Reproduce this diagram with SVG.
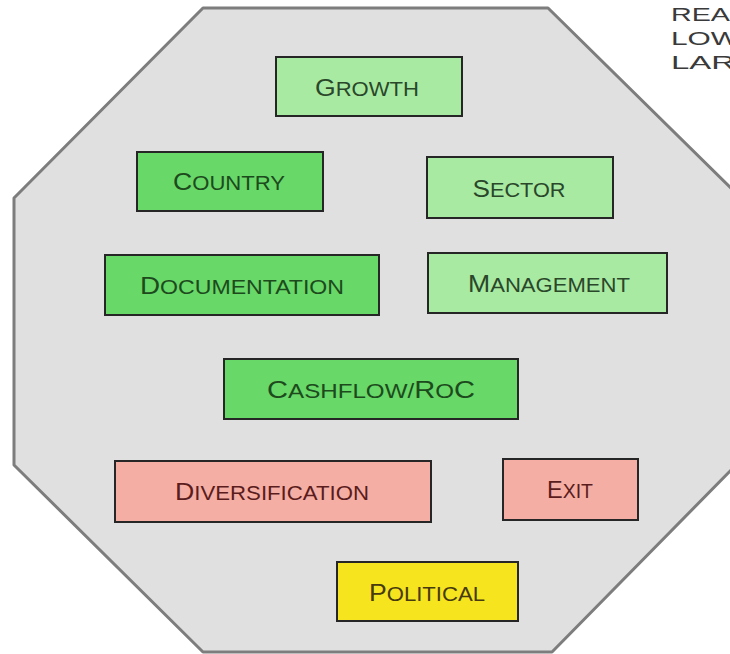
<svg xmlns="http://www.w3.org/2000/svg" width="730" height="654" viewBox="0 0 730 654">
<style>
.oct{fill:#e0e0e0;stroke:#7d7d7d;stroke-width:3;stroke-linejoin:round}
.box{stroke:#262626;stroke-width:2}
.lg{fill:#a9eaa3}
.mg{fill:#68d868}
.pk{fill:#f5aea4}
.yl{fill:#f6e41e}
.t{font-family:"Liberation Sans",Arial,sans-serif;font-size:23.5px}
.s{font-size:19.5px}
.tg{fill:#1d4a1d}
.tl{fill:#2a472a}
.tp{fill:#5a1c1c}
.ty{fill:#463a0e}
.side{font-family:"Liberation Sans",Arial,sans-serif;font-size:19px;fill:#3a3a3a}
</style>
<rect x="0" y="0" width="730" height="654" fill="#ffffff"/>
<polygon class="oct" points="203,8 548,8 740,197 740,461 552,652 203,652 14,465 14,198"/>
<g id="side-text">
<text class="side" x="671" y="21" textLength="59" lengthAdjust="spacingAndGlyphs">REA</text>
<text class="side" x="671" y="45" textLength="68" lengthAdjust="spacingAndGlyphs">LOW</text>
<text class="side" x="671" y="69" textLength="64" lengthAdjust="spacingAndGlyphs">LAR</text>
</g>
<g id="connectors"></g>
<g id="growth">
<rect class="box lg" x="276" y="57" width="186" height="59"/>
<text class="t tl" x="315" y="95.5" textLength="104" lengthAdjust="spacingAndGlyphs">G<tspan class="s">ROWTH</tspan></text>
</g>
<g id="country">
<rect class="box mg" x="137" y="152" width="186" height="59"/>
<text class="t tg" x="173" y="189.5" textLength="112" lengthAdjust="spacingAndGlyphs">C<tspan class="s">OUNTRY</tspan></text>
</g>
<g id="sector">
<rect class="box lg" x="427" y="157" width="186" height="61"/>
<text class="t tl" x="472.5" y="197" textLength="93" lengthAdjust="spacingAndGlyphs">S<tspan class="s">ECTOR</tspan></text>
</g>
<g id="documentation">
<rect class="box mg" x="105" y="255" width="274" height="60"/>
<text class="t tg" x="140" y="293.5" textLength="204" lengthAdjust="spacingAndGlyphs">D<tspan class="s">OCUMENTATION</tspan></text>
</g>
<g id="management">
<rect class="box lg" x="428" y="253" width="239" height="60"/>
<text class="t tl" x="468" y="291.5" textLength="162" lengthAdjust="spacingAndGlyphs">M<tspan class="s">ANAGEMENT</tspan></text>
</g>
<g id="cashflow">
<rect class="box mg" x="224" y="359" width="294" height="60"/>
<text class="t tg" x="267" y="397.5" textLength="208" lengthAdjust="spacingAndGlyphs">C<tspan class="s">ASHFLOW/</tspan>R<tspan class="s">O</tspan>C</text>
</g>
<g id="diversification">
<rect class="box pk" x="115" y="461" width="316" height="61"/>
<text class="t tp" x="175" y="500" textLength="194" lengthAdjust="spacingAndGlyphs">D<tspan class="s">IVERSIFICATION</tspan></text>
</g>
<g id="exit">
<rect class="box pk" x="503" y="459" width="135" height="61"/>
<text class="t tp" x="547" y="498" textLength="46" lengthAdjust="spacingAndGlyphs">E<tspan class="s">XIT</tspan></text>
</g>
<g id="political">
<rect class="box yl" x="337" y="562" width="181" height="59"/>
<text class="t ty" x="369" y="600.5" textLength="116" lengthAdjust="spacingAndGlyphs">P<tspan class="s">OLITICAL</tspan></text>
</g>
</svg>
